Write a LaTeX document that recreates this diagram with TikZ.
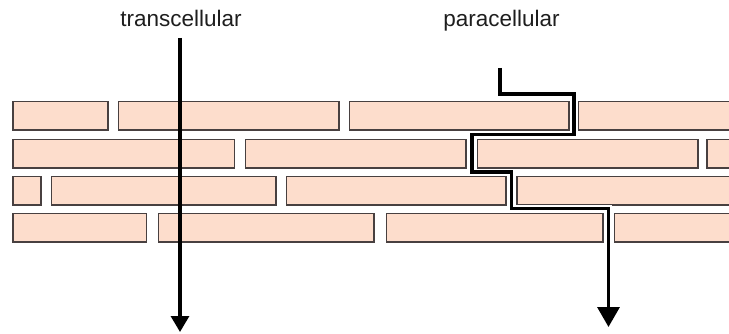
\documentclass[tikz,border=0pt]{standalone}
\usepackage{fontspec}
\setmainfont{Liberation Sans}
\usetikzlibrary{arrows.meta}
\definecolor{brickfill}{RGB}{253,221,204}
\definecolor{brickline}{RGB}{72,64,64}
\definecolor{labeltext}{RGB}{30,30,30}
\tikzset{
  brick/.style={draw=brickline, fill=brickfill, line width=1.6pt},
  label/.style={font=\fontsize{22.5}{26}\selectfont, text=labeltext, inner sep=0pt, anchor=base},
  route/.style={line width=3.3pt, black, line join=miter},
  halo/.style={line width=6pt, white, line join=miter},
}
\begin{document}
\begin{tikzpicture}[x=1pt, y=-1pt]
  \useasboundingbox (0,0) rectangle (729,334);
  \clip (0,0) rectangle (729,334);
  \fill[white] (0,0) rectangle (729,334);

  % cell layers: each row lists left and right edges of its cells
  \foreach \top/\bot/\cells in {
      101.5/130/{13/108, 118.5/339, 349.5/569, 578.5/745},
      139.5/168/{13/234.5, 245.5/466, 477.5/698, 707/745},
      176.5/205/{13/41, 51.5/276, 286.5/506, 517/745},
      213.5/242/{13/146.5, 158.5/374, 386.5/603, 614.5/745}} {
    \foreach \xa/\xb in \cells {
      \draw[brick] (\xa,\top) rectangle (\xb,\bot);
    }
  }

  % labels
  \node[label] (trans) at (181,26.5) {transcellular};
  \node[label] (para)  at (501.5,26.5) {paracellular};

  % transcellular route: straight through the cells
  \coordinate (tstart) at (180,38);
  \coordinate (tend)   at (180,332);
  \draw[route, -{Triangle[length=16pt, width=18pt]}] (tstart) -- (tend);

  % paracellular route: through the gaps between cells
  \coordinate (pstart) at (500,68);
  \coordinate (pend)   at (608.5,327);
  \draw[halo] (pstart) |- (574,94) |- (472,134.5) |- (511.5,172) |- (608.5,208.5) -- (608.5,300);
  \draw[route, -{Triangle[length=20pt, width=22pt]}]
    (pstart) |- (574,94) |- (472,134.5) |- (511.5,172) |- (608.5,208.5) -- (pend);
\end{tikzpicture}
\end{document}
